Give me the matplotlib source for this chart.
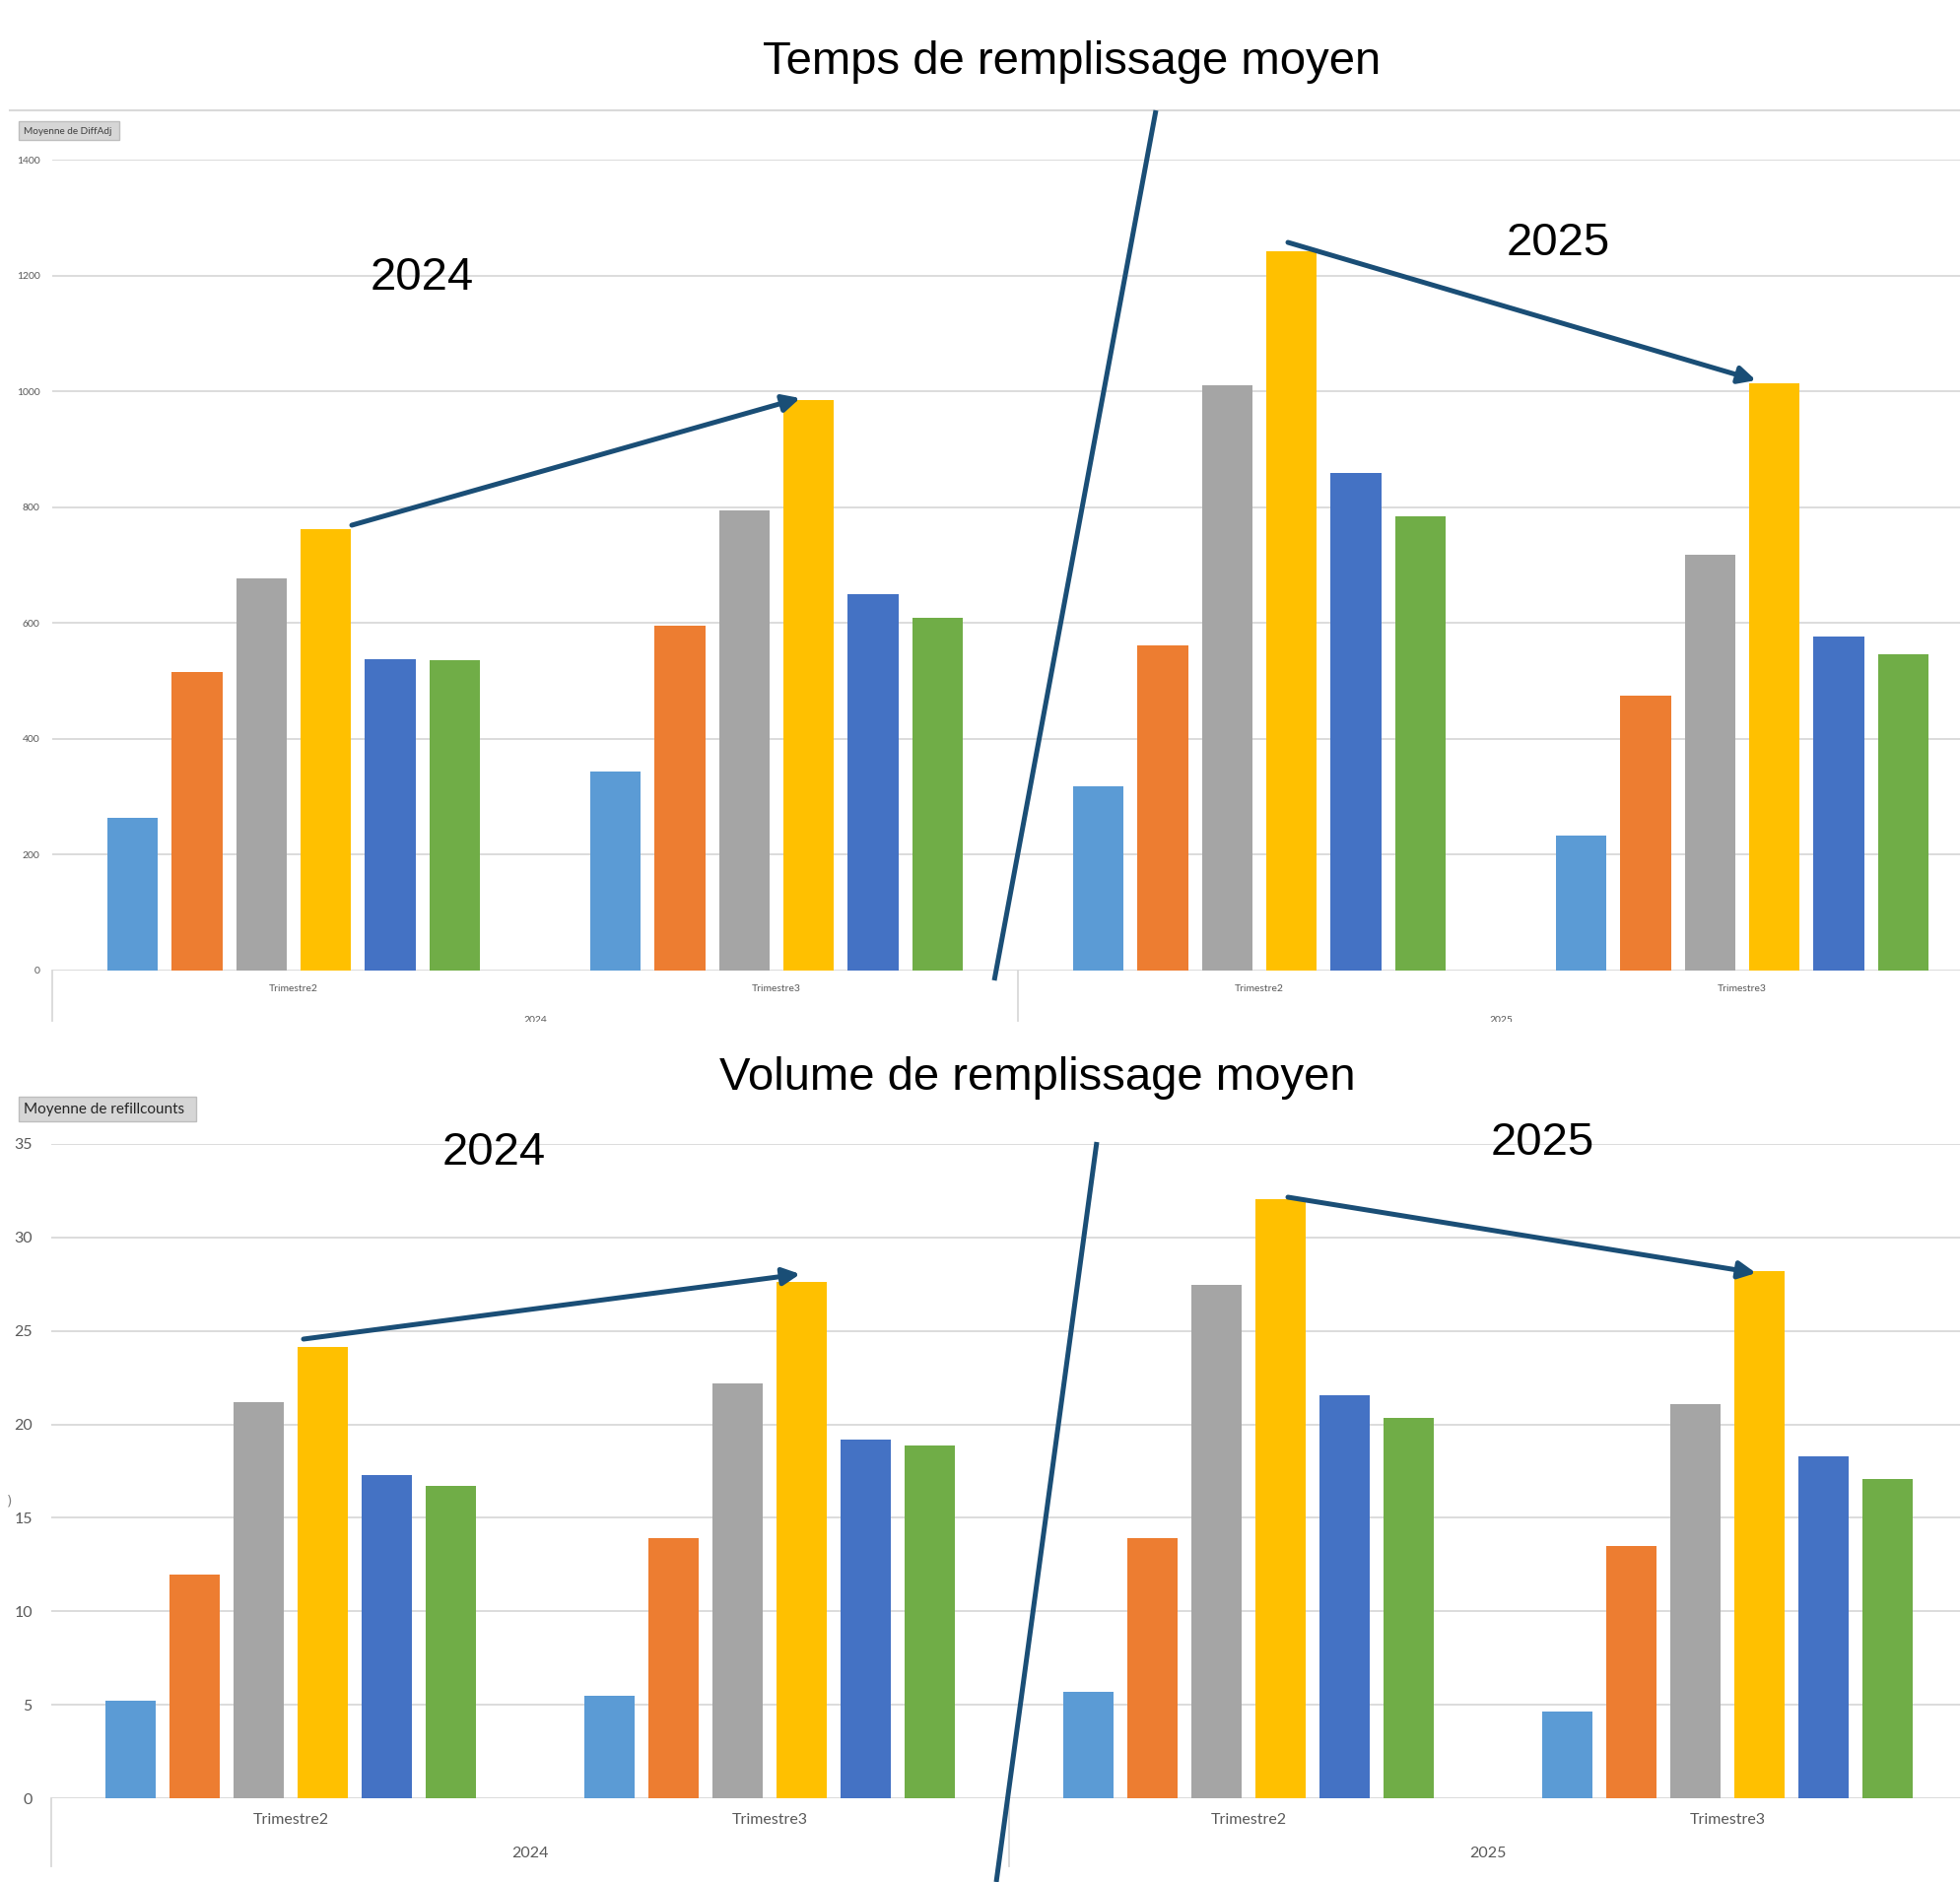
import matplotlib
matplotlib.use('Agg')
import matplotlib.pyplot as plt
from matplotlib.patches import Rectangle
import matplotlib.transforms as mtransforms

# ---------------- data ----------------
quarters = ['Trimestre2', 'Trimestre3', 'Trimestre2', 'Trimestre3']
years = ['2024', '2025']
colors = ['#5B9BD5', '#ED7D31', '#A5A5A5', '#FFC000', '#4472C4', '#70AD47']

# Temps de remplissage moyen (Moyenne de DiffAdj)
temps_s1 = [264, 343, 318, 233]
temps_s2 = [516, 596, 562, 475]
temps_s3 = [678, 795, 1011, 719]
temps_s4 = [763, 985, 1242, 1015]
temps_s5 = [538, 650, 860, 577]
temps_s6 = [536, 609, 784, 547]
temps_ticks = [0, 200, 400, 600, 800, 1000, 1200, 1400]

# Volume de remplissage moyen (Moyenne de refillcounts)
vol_s1 = [5.22, 5.49, 5.69, 4.62]
vol_s2 = [11.98, 13.92, 13.92, 13.52]
vol_s3 = [21.2, 22.2, 27.44, 21.08]
vol_s4 = [24.16, 27.64, 32.05, 28.18]
vol_s5 = [17.27, 19.2, 21.55, 18.27]
vol_s6 = [16.73, 18.87, 20.34, 17.07]
vol_ticks = [0, 5, 10, 15, 20, 25, 30, 35]

W, H = 1990, 1910
fig = plt.figure(figsize=(W / 100, H / 100), dpi=100)
fig.patch.set_facecolor('white')

CHART_FONT = ['Lato', 'DejaVu Sans']
TITLE_FONT = ['Liberation Sans', 'DejaVu Sans']
GRID = '#D9D9D9'
TXT = '#595959'
NAVY = '#1A4E76'


def make_axes(left, right, y_zero, y_top):
    return fig.add_axes([left / W, 1 - y_zero / H, (right - left) / W, (y_zero - y_top) / H])


def draw_chart(ax, series, ticks, tick_fs, drop_px, q_off, y_off):
    x = range(len(quarters))
    for i, (vals, c) in enumerate(zip(series, colors)):
        ax.bar([xi + (i - 2.5) * 0.1335 for xi in x], vals, width=0.105, color=c, zorder=3)
    ax.set_xlim(-0.5, 3.5)
    ax.set_ylim(ticks[0], ticks[-1])
    ax.set_yticks(ticks)
    ax.set_yticklabels([str(t) for t in ticks], fontsize=tick_fs, color=TXT, family=CHART_FONT)
    ax.set_xticks([])
    ax.tick_params(length=0, pad=tick_fs * 1.2)
    for s in ax.spines.values():
        s.set_visible(False)
    ax.yaxis.grid(True, color=GRID, lw=1.3, zorder=0)
    ax.set_axisbelow(True)
    ax.patch.set_alpha(0)
    hpx = ax.get_position().height * H
    tr = mtransforms.blended_transform_factory(ax.transData, ax.transAxes)
    for xv in (-0.5, 1.5):
        ax.plot([xv, xv], [0, -drop_px / hpx], transform=tr, color=GRID, lw=1.3, clip_on=False)
    for i, q in enumerate(quarters):
        ax.annotate(q, xy=(i, 0), xycoords=('data', 'axes fraction'), xytext=(0, -q_off),
                    textcoords='offset pixels', ha='center', va='center',
                    fontsize=tick_fs, color=TXT, family=CHART_FONT)
    for j, yv in enumerate(years):
        ax.annotate(yv, xy=(0.5 + 2 * j, 0), xycoords=('data', 'axes fraction'), xytext=(0, -y_off),
                    textcoords='offset pixels', ha='center', va='center',
                    fontsize=tick_fs, color=TXT, family=CHART_FONT)


ax1 = make_axes(53, 53 + 490 * 4, 985, 162.4)
draw_chart(ax1, [temps_s1, temps_s2, temps_s3, temps_s4, temps_s5, temps_s6],
           temps_ticks, 7.5, 51, 19, 50)

ax2 = make_axes(52, 52 + 486 * 4, 1825, 1161)
draw_chart(ax2, [vol_s1, vol_s2, vol_s3, vol_s4, vol_s5, vol_s6],
           vol_ticks, 11.5, 69, 22, 56)

# ---------------- overlay (pixel coordinates) ----------------
ov = fig.add_axes([0, 0, 1, 1], zorder=10)
ov.set_xlim(0, W)
ov.set_ylim(H, 0)
ov.axis('off')
ov.patch.set_alpha(0)

# crop edge of the first screenshot
ov.add_patch(Rectangle((0, 1037), W, 30, facecolor='white', edgecolor='none'))
# top border line
ov.plot([10, W], [112, 112], color=GRID, lw=1.5)

# field label buttons
ov.add_patch(Rectangle((19, 123), 102, 19, facecolor='#D6D6D6', edgecolor='#BDBDBD', lw=1))
ov.text(24, 133, 'Moyenne de DiffAdj', fontsize=7.2, color='#404040', family=CHART_FONT,
        ha='left', va='center')
ov.add_patch(Rectangle((19, 1113), 180, 25, facecolor='#D6D6D6', edgecolor='#BDBDBD', lw=1))
ov.text(24, 1126, 'Moyenne de refillcounts', fontsize=11, color='#262626', family=CHART_FONT,
        ha='left', va='center')
ov.text(10, 1523, ')', fontsize=10, color='#808080', ha='center', va='center')

# titles
ov.text(1088, 63, 'Temps de remplissage moyen', fontsize=34, family=TITLE_FONT,
        ha='center', va='center', color='black')
ov.text(1053, 1094, 'Volume de remplissage moyen', fontsize=34, family=TITLE_FONT,
        ha='center', va='center', color='black')

# year annotations
for (tx, ty, s) in [(428, 282, '2024'), (1581, 247, '2025'), (501, 1170, '2024'), (1565, 1160, '2025')]:
    ov.text(tx, ty, s, fontsize=34, family=TITLE_FONT, ha='center', va='center', color='black')

# separators
ov.plot([1173, 1009], [112, 995], color=NAVY, lw=3.6, solid_capstyle='butt')
ov.plot([1113, 1011], [1159, 1910], color=NAVY, lw=3.6, solid_capstyle='butt')

# trend arrows
for (x0, y0, x1, y1) in [(357, 533, 812, 404), (1307, 246, 1782, 386),
                         (308, 1359, 812, 1293), (1307, 1215, 1782, 1292)]:
    ov.annotate('', xy=(x1, y1), xytext=(x0, y0),
                arrowprops=dict(arrowstyle='-|>', color=NAVY, lw=3.6, mutation_scale=26,
                                shrinkA=0, shrinkB=0))

fig.savefig('out.png', dpi=100, facecolor='white')
